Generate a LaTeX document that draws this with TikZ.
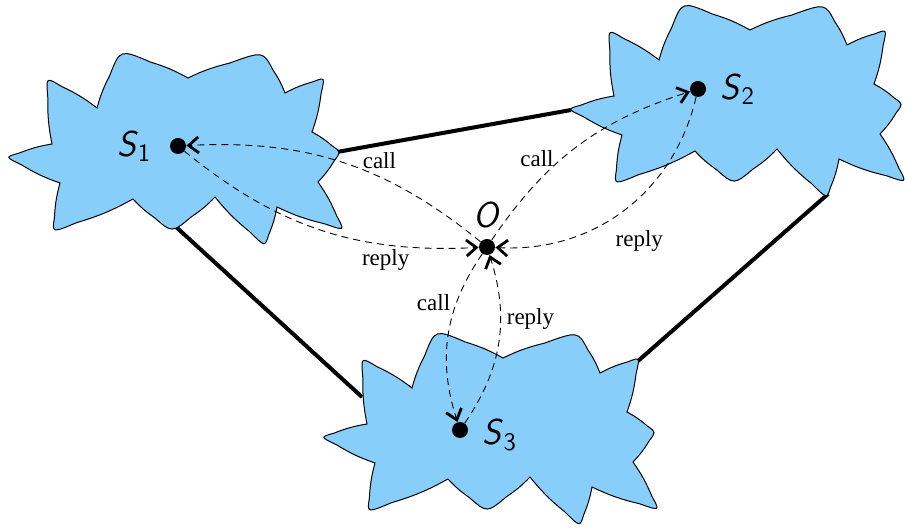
\documentclass[tikz,border=0pt]{standalone}
\usepackage{amsmath}
\usepackage{fontspec}
\setmainfont{Liberation Serif}
\usetikzlibrary{
        arrows.meta,
        backgrounds,
        positioning
    }
\definecolor{skyfill}{RGB}{135,206,250}
\tikzset{>={Straight Barb[length=5pt,width=8pt,line width=1.4pt]}}
\tikzset{
    cloud/.pic={
        \path[draw=black,fill=skyfill,line width=0.5pt,bend left=6]
            (52,144) to (47.8,97.1) .. controls (46,77) and (46,77) .. (61.3,86.3)
            to (97,108) to (109.7,75.6) .. controls (120,49) and (120,49) .. (150.6,62.1)
            to (188,78) to (229.3,63.2) .. controls (263,51) and (263,51) .. (272.9,69.9)
            to (285,93) to (313,81.8) .. controls (325,77) and (325,77) .. (321.1,93.5)
            to (312,132) to (332.3,146) .. controls (341,152) and (341,152) .. (334.1,161)
            to (318,182) to (336.9,216.3) .. controls (345,231) and (345,231) .. (324.6,223.8)
            to (277,207) to (268.6,235) .. controls (265,247) and (265,247) .. (250,232)
            to (215,197) to (191.4,216.8) .. controls (172,233) and (172,233) .. (154.5,217.7)
            to (133,199) to (76.3,222.8) .. controls (52,233) and (52,233) .. (54.4,218)
            to (60,183) to (21.5,164.8) .. controls (5,157) and (5,157) .. (19.1,153.1)
            to (52,144) -- cycle;
        \coordinate (-t4) at (323,81);
        \coordinate (-t5) at (337,152);
        \coordinate (-t7) at (266,242);
        \coordinate (-t8) at (175,226);
        \coordinate (-t10) at (9,158);
        \coordinate (-w) at (47,117);
    },
    dot/.style={circle,fill=black,inner sep=0pt,minimum size=8pt},
    msg/.style={->,line width=0.45pt,dash pattern=on 3.5pt off 2.5pt},
    link/.style={line width=2pt},
    lbl/.style={font=\fontsize{11.5}{13}\selectfont,inner sep=1pt},
    srvname/.style={font=\fontsize{18}{20}\selectfont\sffamily,inner sep=1pt}
}

\begin{document}
\begin{tikzpicture}[x=0.5pt,y=-0.5pt]
    \useasboundingbox (0,0) rectangle (905,528);
    % the three networks
    \pic (c1) at (0,0) {cloud};
    \pic (c2) at (562,-48) {cloud};
    \pic (c3) at (315,280) {cloud};
    \begin{scope}[on background layer]
        \draw[link] (c1-t5) -- (c2-t10);
        \draw[link] (c1-t8) -- (c3-w);
        \draw[link] (c2-t7) -- (c3-t4);
    \end{scope}
    % hosts
    \node[dot] (s1) at (178,146) {};
    \node[dot] (s2) at (698,89) {};
    \node[dot] (s3) at (460,430) {};
    \node[dot] (o)  at (487,247) {};
    \node[srvname] (s1l) [left=8pt of s1] {$\textsf{\textsl{S}}_{\textsf{1}}$};
    \node[srvname] (s2l) [right=6pt of s2] {$\textsf{\textsl{S}}_{\textsf{2}}$};
    \node[srvname] (s3l) [right=6pt of s3,yshift=-2.5pt] {$\textsf{\textsl{S}}_{\textsf{3}}$};
    \node[srvname] (ol) [above=4pt of o] {\textsl{O}};
    % calls and replies
    \path[msg]
        (o)  edge[bend right=21] node[lbl,pos=0.37,above=3pt] (call1) {call} (s1)
        (s1) edge[bend right=21] node[lbl,pos=0.72,below=1pt] (reply1) {reply} (o)
        (o)  edge[bend left=19] node[lbl,pos=0.42,left=3pt] (call2) {call} (s2)
        (s2) edge[bend left=40] node[lbl,pos=0.55,below right=5pt and 0pt] (reply2) {reply} (o)
        (o)  edge[bend right=26] node[lbl,pos=0.3,left=2pt] (call3) {call} (s3)
        (s3) edge[bend right=26] node[lbl,pos=0.64,right=2pt] (reply3) {reply} (o)
    ;
\end{tikzpicture}
\end{document}
